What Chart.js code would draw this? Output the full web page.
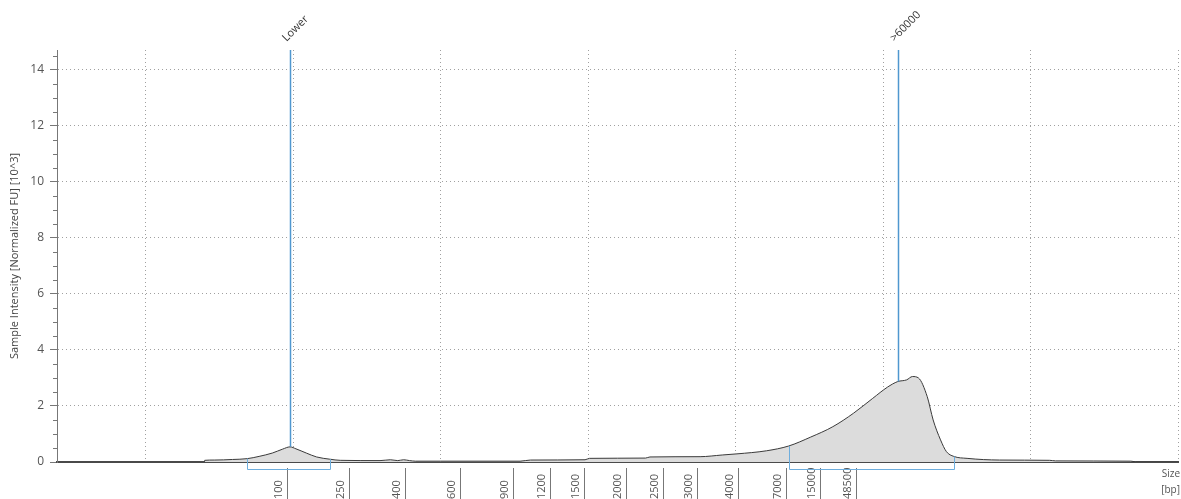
<!DOCTYPE html>
<html>
<head>
<meta charset="utf-8">
<script src="https://cdn.jsdelivr.net/npm/chart.js@4.4.1/dist/chart.umd.min.js"></script>
<style>
  html, body { margin: 0; padding: 0; background: #ffffff; }
  #wrap { width: 1181px; height: 499px; position: relative; }
</style>
</head>
<body>
<div id="wrap"><canvas id="trace"></canvas></div>
<script>
// Electropherogram trace: run position (arbitrary units) vs. sample intensity (10^3 normalized FU)
const runPos = [0.40, 0.401, 0.47, 0.59, 0.69, 0.77, 0.86, 0.93, 0.98, 1.02, 1.09, 1.16, 1.25, 1.32,
  1.59, 1.66, 1.71, 1.75, 1.79, 1.83, 2.00, 2.54, 2.61, 2.98, 3.01, 3.39, 3.42, 3.76, 3.91, 4.01,
  4.21, 4.36, 4.51, 4.66, 4.80, 4.93, 5.03, 5.10, 5.16, 5.20, 5.24, 5.30, 5.34, 5.39, 5.43, 5.48,
  5.57, 5.79, 6.13, 6.17, 6.68, 6.71, 7.00];
const intensity = [0.00, 0.06, 0.07, 0.09, 0.12, 0.20, 0.32, 0.46, 0.54, 0.47, 0.32, 0.18, 0.10, 0.06,
  0.05, 0.08, 0.05, 0.08, 0.05, 0.03, 0.03, 0.03, 0.07, 0.08, 0.13, 0.14, 0.18, 0.19, 0.25, 0.29,
  0.40, 0.57, 0.89, 1.26, 1.74, 2.27, 2.67, 2.87, 2.93, 3.05, 3.00, 2.33, 1.50, 0.79, 0.37, 0.20,
  0.13, 0.07, 0.06, 0.04, 0.03, 0.01, 0.01];

// Size standard: fragment sizes [bp] and the run positions where they appear
const ladderSizes = [100, 250, 400, 600, 900, 1200, 1500, 2000, 2500, 3000, 4000, 7000, 15000, 48500];
const ladderPos = [0.96, 1.38, 1.76, 2.13, 2.49, 2.74, 2.97, 3.26, 3.51, 3.74, 4.02, 4.34, 4.57, 4.82];

// Peak markers
const markerNames = ['Lower', '>60000'];
const markerPos = [0.98, 5.10];

// Integrated regions
const regionStart = [0.69, 4.36];
const regionEnd = [1.25, 5.48];

// Axis labels
const yTitle = 'Sample Intensity [Normalized FU] [10^3]';
const xTitle = ['Size', '[bp]'];

const FONT = "'Open Sans', 'DejaVu Sans', sans-serif";

function intensityAt(u) {
  for (let i = 0; i < runPos.length - 1; i++) {
    if (u >= runPos[i] && u <= runPos[i + 1]) {
      const t = (u - runPos[i]) / (runPos[i + 1] - runPos[i]);
      return intensity[i] + t * (intensity[i + 1] - intensity[i]);
    }
  }
  return 0;
}

const overlay = {
  id: 'overlay',
  afterDraw(chart) {
    const { ctx, chartArea: a, scales: { x, y } } = chart;
    ctx.save();

    // minor ticks on the intensity axis
    ctx.strokeStyle = '#777';
    ctx.lineWidth = 1;
    for (let k = 1; k * 0.5 < y.max; k++) {
      const v = k * 0.5;
      if (v % 2 === 0) continue;
      const py = Math.round(y.getPixelForValue(v)) + 0.5;
      ctx.beginPath();
      ctx.moveTo(a.left - 4, py);
      ctx.lineTo(a.left, py);
      ctx.stroke();
    }

    // size ladder ticks and labels under the baseline
    ctx.font = '11px ' + FONT;
    ctx.fillStyle = '#555';
    ladderSizes.forEach((s, i) => {
      const px = Math.round(x.getPixelForValue(ladderPos[i])) + 0.5;
      ctx.strokeStyle = '#777';
      ctx.beginPath();
      ctx.moveTo(px, a.bottom + 6);
      ctx.lineTo(px, a.bottom + 40);
      ctx.stroke();
      ctx.save();
      ctx.translate(px - 6, a.bottom + 37);
      ctx.rotate(-Math.PI / 2);
      ctx.textAlign = 'left';
      ctx.textBaseline = 'alphabetic';
      ctx.fillText(String(s), 0, 0);
      ctx.restore();
    });

    // region brackets
    ctx.strokeStyle = '#6eaede';
    ctx.lineWidth = 1;
    regionStart.forEach((s, i) => {
      const x1 = Math.round(x.getPixelForValue(s)) + 0.5;
      const x2 = Math.round(x.getPixelForValue(regionEnd[i])) + 0.5;
      const yb = a.bottom + 7.5;
      ctx.beginPath();
      ctx.moveTo(x1, y.getPixelForValue(intensityAt(s)));
      ctx.lineTo(x1, yb);
      ctx.lineTo(x2, yb);
      ctx.lineTo(x2, y.getPixelForValue(intensityAt(regionEnd[i])));
      ctx.stroke();
    });

    // peak markers
    markerNames.forEach((name, i) => {
      const px = Math.round(x.getPixelForValue(markerPos[i])) + 0.5;
      ctx.strokeStyle = '#4f97cf';
      ctx.lineWidth = 1.5;
      ctx.beginPath();
      ctx.moveTo(px, a.top);
      ctx.lineTo(px, y.getPixelForValue(intensityAt(markerPos[i])));
      ctx.stroke();
      ctx.save();
      ctx.translate(px - 4, a.top - 8);
      ctx.rotate(-Math.PI / 4);
      ctx.font = '11px ' + FONT;
      ctx.fillStyle = '#333';
      ctx.textAlign = 'left';
      ctx.textBaseline = 'alphabetic';
      ctx.fillText(name, 0, 0);
      ctx.restore();
    });

    // x-axis title
    ctx.font = '10px ' + FONT;
    ctx.fillStyle = '#555';
    ctx.textAlign = 'right';
    ctx.textBaseline = 'alphabetic';
    ctx.fillText(xTitle[0], a.right + 2, a.bottom + 15);
    ctx.fillText(xTitle[1], a.right + 2, a.bottom + 31);

    ctx.restore();
  }
};

new Chart(document.getElementById('trace'), {
  type: 'line',
  data: {
    datasets: [{
      data: runPos.map((u, i) => ({ x: u, y: intensity[i] })),
      borderColor: '#3a3a3a',
      borderWidth: 1,
      backgroundColor: '#dcdcdc',
      fill: 'origin',
      pointRadius: 0,
      cubicInterpolationMode: 'monotone'
    }]
  },
  options: {
    responsive: true,
    maintainAspectRatio: false,
    animation: false,
    events: [],
    layout: { padding: { left: 0, top: 50, right: 3, bottom: 0 } },
    plugins: { legend: { display: false }, tooltip: { enabled: false } },
    scales: {
      x: {
        type: 'linear',
        min: -0.6,
        max: 7,
        ticks: { display: false, stepSize: 1, includeBounds: false },
        grid: { color: '#a0a0a0', lineWidth: 1, drawTicks: false },
        border: { color: '#4a4a4a', width: 2, dash: [1, 3] },
        afterFit(s) { s.height = 37; }
      },
      y: {
        min: 0,
        max: 14.7,
        ticks: { stepSize: 2, includeBounds: false, color: '#555', font: { family: FONT, size: 12 }, padding: 6 },
        grid: { color: '#a0a0a0', lineWidth: 1, tickLength: 7, tickColor: '#777' },
        border: { color: '#777', width: 1, dash: [1, 3] },
        title: { display: true, text: yTitle, color: '#444', font: { family: FONT, size: 11 }, padding: { top: 8, bottom: 0 } },
        afterFit(s) { s.width = 57; }
      }
    }
  },
  plugins: [overlay]
});
</script>
</body>
</html>
